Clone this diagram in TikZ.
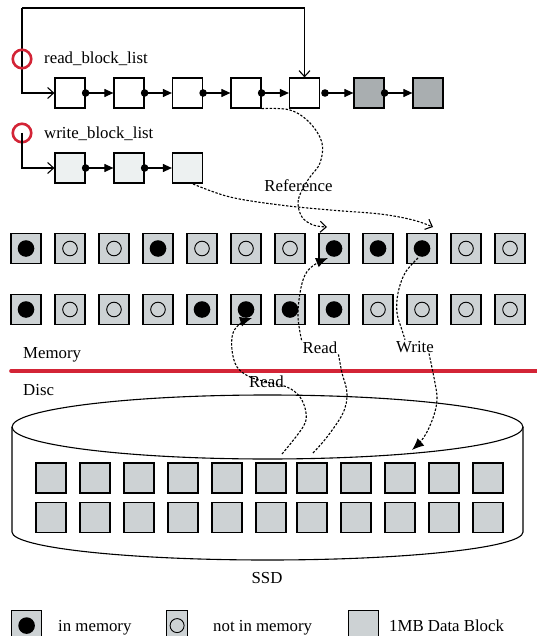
\documentclass[tikz,border=0pt]{standalone}
\usepackage{fontspec}
\setmainfont{Liberation Serif}
\usetikzlibrary{arrows.meta}
\definecolor{blk}{HTML}{CDD2D4}
\definecolor{dgray}{HTML}{A9AEB0}
\definecolor{lgray}{HTML}{EDF1F1}
\definecolor{myred}{HTML}{D32436}
\begin{document}
\begin{tikzpicture}[x=1pt,y=1pt,
  every node/.style={font=\fontsize{16.8}{19}\selectfont, inner sep=1pt},
  lbox/.style={draw, line width=1.2pt, minimum width=30pt, minimum height=30pt, inner sep=0pt},
  memblk/.style={lbox, fill=blk},
  rcirc/.style={circle, draw=myred, line width=2.6pt, minimum size=18.5pt, inner sep=0pt},
  solidline/.style={line width=1.1pt},
  openarr/.style={-{Straight Barb[length=6pt,width=11pt,line width=1.1pt]}},
  listarr/.style={solidline, -{Triangle[length=9pt,width=8pt]}},
  dotc/.style={fill=black},
  dline/.style={line width=1.1pt, dash pattern=on 2.4pt off 1.6pt},
  filledarr/.style={-{Latex[length=12pt,width=10pt]}},
]
\path[use as bounding box, fill=white] (0,0) rectangle (537,-636);

% ---------- linked lists ----------
\foreach \x [count=\i] in {70,129,187.5,246,304.5}
  \node[lbox, fill=white] (L\i) at (\x,-93) {};
\node[lbox, fill=dgray] (L6) at (369,-93) {};
\node[lbox, fill=dgray] (L7) at (428,-93) {};
\foreach \x [count=\i] in {70,129,187.5}
  \node[lbox, fill=lgray] (W\i) at (\x,-168) {};

\coordinate (tl) at (22,-8);
\draw[solidline, openarr] (tl) |- (L1.west);
\draw[solidline, openarr] (tl) -| (L5.north);

\node[rcirc] (RC1) at (22,-59) {};
\node[rcirc] (RC2) at (22,-133) {};
\draw[solidline, openarr] (RC2.center) |- (W1.west);

\node[anchor=base west] (rbl) at (43,-64) {read\_block\_list};
\node[anchor=base west] (wbl) at (43,-139) {write\_block\_list};

\foreach \a/\b in {L1/L2,L2/L3,L3/L4,L4/L5,L6/L7,W1/W2,W2/W3} {
  \draw[listarr] (\a.east) -- (\b.west);
  \fill[dotc] (\a.east) circle (3.8pt);
}
\coordinate (d5) at (325,-93);
\draw[listarr] (d5) -- (L6.west);
\fill[dotc] (d5) circle (3.8pt);

% ---------- memory blocks ----------
\foreach \s [count=\i] in {1,0,0,1,0,0,0,1,1,1,0,0} {
  \node[memblk] (ma\i) at ({26+44*(\i-1)},-248.5) {};
  \ifnum\s=1 \fill (ma\i.center) circle (8.3pt);
  \else \draw[line width=0.9pt] (ma\i.center) circle (7.3pt); \fi
}
\foreach \s [count=\i] in {1,0,0,0,1,1,1,1,0,0,0,0} {
  \node[memblk] (mb\i) at ({26+44*(\i-1)},-309.5) {};
  \ifnum\s=1 \fill (mb\i.center) circle (8.3pt);
  \else \draw[line width=0.9pt] (mb\i.center) circle (7.3pt); \fi
}

\node[anchor=base west] (mem) at (22,-358) {Memory};
\draw[myred, line width=3.6pt, line cap=round] (11,-371) -- (545,-371);
\node[anchor=base west] (disc) at (22,-395) {Disc};

% ---------- SSD cylinder ----------
\draw[line width=1.1pt] (267.5,-427) ellipse [x radius=255.5, y radius=32];
\draw[line width=1.1pt] (12,-427) -- (12,-532)
   arc[start angle=180, end angle=360, x radius=255.5, y radius=28] -- (523,-427);
\foreach \x [count=\i] in {51,95,139,183,227,271,312,356,400,444,488} {
  \node[memblk] (sa\i) at (\x,-478) {};
  \node[memblk] (sb\i) at (\x,-517.5) {};
}
\node[anchor=base] (ssd) at (267,-583) {SSD};

% ---------- labels on connectors ----------
\node[anchor=base] (ref) at (298.5,-192) {Reference};
\node[anchor=base] (rdU) at (320,-353) {Read};
\node[anchor=base] (wr) at (415,-352) {Write};
\node[anchor=base] (rdL) at (266.5,-387) {Read};

% ---------- dashed connectors ----------
\coordinate (refend) at (327,-227);
\draw[dline, openarr] plot[smooth, tension=0.6] coordinates {
  (L4.south east) (290,-110) (310,-123) (322,-143) (320,-163) (310,-177)
  (302,-190) (298,-203) (302,-217) (313,-225) (refend)};

\coordinate (wrefs) at (193,-184);
\coordinate (wrefend) at (433,-227);
\draw[dline, openarr] plot[smooth, tension=0.6] coordinates {
  (wrefs) (230,-197) (280,-205) (330,-210) (380,-214) (413,-220) (wrefend)};

\coordinate (r1s) at (282,-454);
\coordinate (r1e) at (252,-318);
\draw[dline, filledarr] plot[smooth, tension=0.6] coordinates {
  (r1s) (303,-427) (306,-413) (300,-397) (287,-387) (267,-382) (250,-377)
  (237,-367) (232,-350) (233,-333) (241,-323) (r1e)};

\coordinate (r2s) at (313,-453);
\coordinate (r2e) at (328,-258);
\draw[dline] plot[smooth, tension=0.6] coordinates {
  (r2s) (327,-437) (343,-413) (347,-393) (342,-373) (rdU.south east)};
\draw[dline, filledarr] plot[smooth, tension=0.6] coordinates {
  (rdU.north west) (298,-317) (300,-293) (305,-275) (314,-265) (r2e)};

\coordinate (ws) at (418,-258);
\coordinate (we) at (412,-450);
\draw[dline] plot[smooth, tension=0.6] coordinates {
  (ws) (405,-273) (398,-293) (397,-313) (402,-330) ([xshift=10pt]wr.north west)};
\draw[dline, filledarr] plot[smooth, tension=0.6] coordinates {
  ([xshift=-6pt]wr.south east) (435,-383) (437,-400) (433,-418) (424,-437) (we)};

% ---------- legend ----------
\node[lbox, fill=blk, anchor=north west] (lg1) at (11,-610) {};
\fill (lg1.center) circle (8.3pt);
\node[lbox, fill=blk, anchor=north west, minimum width=21pt] (lg2) at (166,-610) {};
\draw[line width=0.9pt] (lg2.center) circle (7pt);
\node[lbox, fill=blk, anchor=north west] (lg3) at (348,-610) {};
\node[anchor=base west] (t1) at (57,-631) {in memory};
\node[anchor=base west] (t2) at (212,-631) {not in memory};
\node[anchor=base west] (t3) at (388,-631) {1MB Data Block};
\end{tikzpicture}
\end{document}
